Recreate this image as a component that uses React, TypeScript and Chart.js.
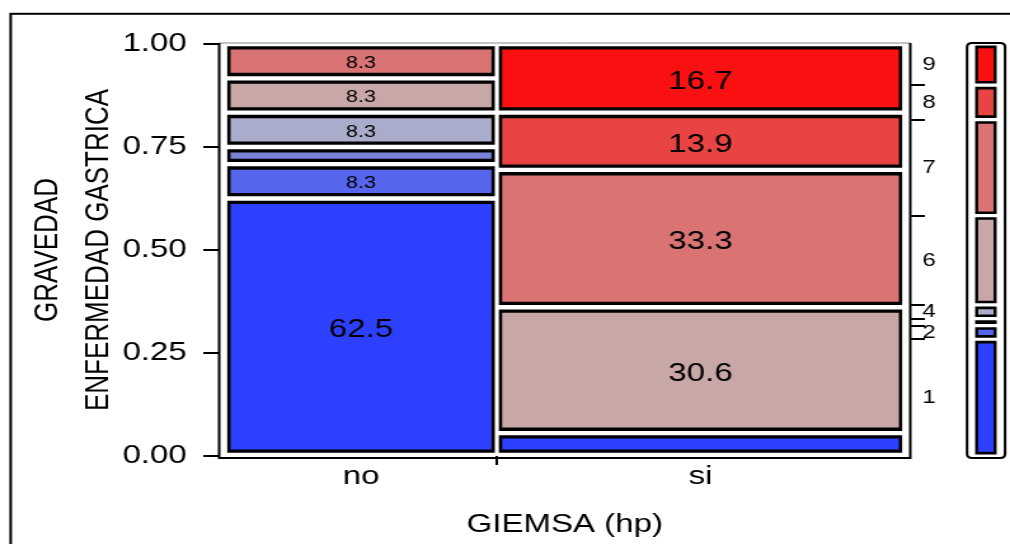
import React, { useEffect, useRef } from 'react';
import { Chart, registerables } from 'chart.js';

Chart.register(...registerables);

// ---------------- data ----------------
const columnLabels = ['no', 'si'];
const levelLabels = ['1', '2', '3', '4', '6', '7', '8', '9'];
const countsNo = [15, 2, 1, 2, 2, 2, 0, 0];
const countsSi = [2, 0, 0, 0, 11, 12, 5, 6];
const yTickValues = [0, 0.25, 0.5, 0.75, 1];
const xAxisTitle = 'GIEMSA (hp)';
const yAxisTitle = ['GRAVEDAD', 'ENFERMEDAD GASTRICA'];

// ---------------- style ----------------
const levelColors = ['#2D40FF', '#5565EC', '#7A83D6', '#A9ADCB', '#C8A7A7', '#DA7474', '#E84444', '#FA1010'];
const FONT = "'Liberation Sans', Arial, Helvetica, sans-serif";
const CANVAS_W = 795;
const CANVAS_H = 544;
const DISPLAY_W = 1010;
const PAD_LEFT = 10;
const PLOT_LEFT = 173;
const PLOT_RIGHT = 716;
const PLOT_TOP = 44;
const PLOT_BOTTOM = 456;
const MARG_LEFT = 762;
const MARG_RIGHT = 790;
const X_PAD = 0.008;
const MIN_LABEL_GAP = 0.045;
const GAP = { top: 2.2, bottom: 2.2, left: 1.6, right: 1.6 };
const GAP_BORDER = { top: 5.5, bottom: 5.5, left: 4.2, right: 4.2 };
const M_GAP = { top: 1.6, bottom: 1.6, left: 0, right: 0 };
const M_GAP_BORDER = { top: 4.2, bottom: 4.2, left: 2.6, right: 2.6 };
const TRANSPARENT = 'rgba(0,0,0,0)';

Chart.defaults.font.family = FONT;
Chart.defaults.color = '#000';

// ---------------- derived ----------------
const sum = (a: number[]) => a.reduce((s, v) => s + v, 0);
const columnCounts = [countsNo, countsSi];
const columnTotals = columnCounts.map(sum);
const grandTotal = sum(columnTotals);
const columnShares = columnTotals.map((t) => t / grandTotal);
const columnStarts = columnShares.map((_, i) => sum(columnShares.slice(0, i)));
const columnCenters = columnStarts.map((s, i) => s + columnShares[i] / 2);
const columnAxisIds = columnLabels.map((_, i) => `xCol${i}`);

const levelTotals = levelLabels.map((_, l) => sum(columnCounts.map((c) => c[l])));
const marginalEdges: number[] = [0];
levelTotals.forEach((n) => marginalEdges.push(marginalEdges[marginalEdges.length - 1] + n / grandTotal));
const presentLevels = levelTotals.map((n, i) => (n > 0 ? i : -1)).filter((i) => i >= 0);
const rightBoundaries = presentLevels.slice(0, -1).map((l) => marginalEdges[l + 1]);
const rightCenters = presentLevels.map((l) => (marginalEdges[l] + marginalEdges[l + 1]) / 2);
const rightLabelMap = new Map<number, string>();
{
  let last = -Infinity;
  presentLevels.forEach((l, k) => {
    const v = rightCenters[k];
    if (v - last >= MIN_LABEL_GAP) {
      rightLabelMap.set(v, levelLabels[l]);
      last = v;
    }
  });
}
const rightTicks = [...rightBoundaries, ...rightCenters].sort((a, b) => a - b);
const rightBoundarySet = new Set(rightBoundaries);

const xBoundaries = columnStarts.slice(1);
const xBoundarySet = new Set(xBoundaries);
const xLabelMap = new Map<number, string>();
columnCenters.forEach((c, i) => xLabelMap.set(c, columnLabels[i]));
const xTicks = [...columnCenters, ...xBoundaries].sort((a, b) => a - b);

function mosaicDatasets() {
  const out: any[] = [];
  columnCounts.forEach((counts, c) => {
    let cum = 0;
    counts.forEach((n, l) => {
      if (!n) return;
      const lo = cum / columnTotals[c];
      cum += n;
      const hi = cum / columnTotals[c];
      const common = {
        type: 'bar',
        xAxisID: columnAxisIds[c],
        yAxisID: 'y',
        data: [{ x: columnCenters[c], y: [lo, hi] }],
        grouped: false,
        barPercentage: 1,
        categoryPercentage: columnShares[c] / (1 + 2 * X_PAD),
        borderSkipped: false,
        inflateAmount: 0,
      };
      out.push({
        ...common,
        label: `${columnLabels[c]} ${levelLabels[l]} outline`,
        order: 2,
        backgroundColor: '#000',
        borderColor: '#fff',
        borderWidth: GAP,
      });
      out.push({
        ...common,
        label: `${columnLabels[c]} ${levelLabels[l]}`,
        order: 1,
        backgroundColor: levelColors[l],
        borderColor: TRANSPARENT,
        borderWidth: GAP_BORDER,
        cellLabel: ((n / columnTotals[c]) * 100).toFixed(1),
      });
    });
  });
  return out;
}

function marginalDatasets() {
  const out: any[] = [];
  levelTotals.forEach((n, l) => {
    if (!n) return;
    const common = {
      type: 'bar',
      data: [[marginalEdges[l], marginalEdges[l + 1]]],
      grouped: false,
      barPercentage: 0.62,
      categoryPercentage: 1,
      borderSkipped: false,
      inflateAmount: 0,
    };
    out.push({ ...common, label: `${levelLabels[l]} outline`, order: 2, backgroundColor: '#000', borderColor: '#fff', borderWidth: M_GAP });
    out.push({ ...common, label: levelLabels[l], order: 1, backgroundColor: levelColors[l], borderColor: TRANSPARENT, borderWidth: M_GAP_BORDER });
  });
  return out;
}

// ---------------- plugins ----------------
const mainFramePlugin = {
  id: 'mainFrame',
  beforeDraw(chart: any) {
    const { ctx } = chart;
    ctx.save();
    ctx.fillStyle = '#fff';
    ctx.fillRect(0, 0, chart.width, chart.height);
    ctx.strokeStyle = '#000';
    ctx.lineWidth = 2;
    ctx.strokeRect(8.4, 13.8, chart.width + 40, chart.height + 40);
    ctx.restore();
  },
  beforeDatasetsDraw(chart: any) {
    const { ctx, chartArea: a } = chart;
    ctx.save();
    ctx.strokeStyle = '#888';
    ctx.lineWidth = 1;
    ctx.beginPath();
    ctx.moveTo(a.left - 0.5, a.top - 1);
    ctx.lineTo(a.right + 0.5, a.top - 1);
    ctx.stroke();
    ctx.strokeStyle = '#000';
    ctx.lineWidth = 2;
    ctx.beginPath();
    ctx.moveTo(a.left - 0.5, a.top - 1);
    ctx.lineTo(a.left - 0.5, a.bottom + 2);
    ctx.lineTo(a.right + 0.5, a.bottom + 2);
    ctx.lineTo(a.right + 0.5, a.top - 1);
    ctx.stroke();
    ctx.restore();
  },
};

const cellLabelPlugin = {
  id: 'cellLabels',
  afterDatasetsDraw(chart: any) {
    const { ctx } = chart;
    ctx.save();
    ctx.textAlign = 'center';
    ctx.textBaseline = 'alphabetic';
    ctx.fillStyle = '#000';
    chart.data.datasets.forEach((ds: any, i: number) => {
      if (!ds.cellLabel) return;
      const el = chart.getDatasetMeta(i).data[0];
      if (!el) return;
      const { x, y, base } = el.getProps(['x', 'y', 'base'], true);
      const h = Math.abs(base - y);
      if (h < 30) return;
      const size = h > 50 ? 26 : 17;
      ctx.font = `${size}px ${FONT}`;
      ctx.fillText(ds.cellLabel, x, (y + base) / 2 + size * 0.41);
    });
    ctx.restore();
  },
};

const marginalFramePlugin = {
  id: 'marginalFrame',
  beforeDatasetsDraw(chart: any) {
    const { ctx, chartArea: a } = chart;
    const x0 = a.left - 0.8;
    const x1 = a.right + 1.1;
    const y0 = a.top - 1;
    const y1 = a.bottom + 2;
    const r = 4;
    ctx.save();
    ctx.strokeStyle = '#000';
    ctx.lineWidth = 2;
    ctx.beginPath();
    ctx.moveTo(x0 + r, y0);
    ctx.lineTo(x1 - r, y0);
    ctx.quadraticCurveTo(x1, y0, x1, y0 + r);
    ctx.lineTo(x1, y1 - r);
    ctx.quadraticCurveTo(x1, y1, x1 - r, y1);
    ctx.lineTo(x0 + r, y1);
    ctx.quadraticCurveTo(x0, y1, x0, y1 - r);
    ctx.lineTo(x0, y0 + r);
    ctx.quadraticCurveTo(x0, y0, x0 + r, y0);
    ctx.closePath();
    ctx.stroke();
    ctx.restore();
  },
};

// ---------------- configs ----------------
const hiddenColumnAxis = () => ({
  type: 'linear',
  axis: 'x',
  position: 'bottom',
  display: false,
  min: -X_PAD,
  max: 1 + X_PAD,
  offset: false,
  grid: { offset: false },
  afterBuildTicks: (s: any) => {
    s.ticks = [{ value: s.min }, { value: s.max }];
  },
});

function mainConfig(): any {
  const scales: any = {
    x: {
      type: 'linear',
      position: 'bottom',
      min: -X_PAD,
      max: 1 + X_PAD,
      offset: false,
      afterBuildTicks: (s: any) => {
        s.ticks = xTicks.map((v) => ({ value: v }));
      },
      afterFit: (s: any) => {
        s.height = CANVAS_H - PLOT_BOTTOM;
      },
      ticks: {
        callback: (v: number) => xLabelMap.get(v) ?? '',
        font: { size: 26 },
        padding: -3.4,
        autoSkip: false,
        maxRotation: 0,
        minRotation: 0,
        color: '#000',
      },
      grid: {
        offset: false,
        drawOnChartArea: false,
        drawTicks: true,
        tickLength: 9,
        lineWidth: 2,
        color: (c: any) => (c.tick && xBoundarySet.has(c.tick.value) ? '#000' : TRANSPARENT),
        tickColor: (c: any) => (c.tick && xBoundarySet.has(c.tick.value) ? '#000' : TRANSPARENT),
      },
      border: { display: false },
      title: {
        display: true,
        text: xAxisTitle,
        font: { size: 26 },
        color: '#000',
        padding: { top: 0, bottom: 3.4 },
      },
    },
    y: {
      type: 'linear',
      position: 'left',
      min: 0,
      max: 1,
      afterBuildTicks: (s: any) => {
        s.ticks = yTickValues.map((v) => ({ value: v }));
      },
      afterFit: (s: any) => {
        s.width = PLOT_LEFT - PAD_LEFT;
      },
      ticks: {
        callback: (v: number) => Number(v).toFixed(2),
        font: { size: 26 },
        padding: 13,
        autoSkip: false,
        color: '#000',
      },
      grid: {
        drawOnChartArea: false,
        drawTicks: true,
        tickLength: 13,
        lineWidth: 2,
        color: '#000',
      },
      border: { display: false },
      title: {
        display: true,
        text: yAxisTitle,
        font: { size: 26, lineHeight: 1.515 },
        color: '#000',
        padding: { top: 8.4, bottom: 0 },
      },
    },
    y2: {
      type: 'linear',
      position: 'right',
      min: 0,
      max: 1,
      afterBuildTicks: (s: any) => {
        s.ticks = rightTicks.map((v) => ({ value: v }));
      },
      afterFit: (s: any) => {
        s.width = CANVAS_W - PLOT_RIGHT;
      },
      ticks: {
        callback: (v: number) => rightLabelMap.get(v) ?? '',
        font: { size: 19 },
        padding: -2,
        autoSkip: false,
        color: '#000',
      },
      grid: {
        drawOnChartArea: false,
        drawTicks: true,
        tickLength: 12,
        lineWidth: 2,
        color: (c: any) => (c.tick && rightBoundarySet.has(c.tick.value) ? '#000' : TRANSPARENT),
        tickColor: (c: any) => (c.tick && rightBoundarySet.has(c.tick.value) ? '#000' : TRANSPARENT),
      },
      border: { display: false },
    },
  };
  columnAxisIds.forEach((id) => {
    scales[id] = hiddenColumnAxis();
  });
  return {
    type: 'bar',
    data: { datasets: mosaicDatasets() },
    options: {
      responsive: false,
      devicePixelRatio: 1,
      animation: false,
      events: [],
      layout: { padding: { left: PAD_LEFT, right: 0, top: PLOT_TOP, bottom: 0 } },
      plugins: {
        legend: { display: false },
        tooltip: { enabled: false },
        title: { display: false },
      },
      scales,
    },
    plugins: [mainFramePlugin, cellLabelPlugin],
  };
}

function marginalConfig(): any {
  return {
    type: 'bar',
    data: { labels: ['total'], datasets: marginalDatasets() },
    options: {
      responsive: false,
      devicePixelRatio: 1,
      animation: false,
      events: [],
      layout: {
        padding: { left: MARG_LEFT, right: CANVAS_W - MARG_RIGHT, top: PLOT_TOP, bottom: CANVAS_H - PLOT_BOTTOM },
      },
      plugins: { legend: { display: false }, tooltip: { enabled: false } },
      scales: {
        x: { type: 'category', display: false },
        y: { type: 'linear', display: false, min: 0, max: 1 },
      },
    },
    plugins: [marginalFramePlugin],
  };
}

// ---------------- component ----------------
export default function App() {
  const mainRef = useRef<HTMLCanvasElement>(null);
  const margRef = useRef<HTMLCanvasElement>(null);

  useEffect(() => {
    const main = new Chart(mainRef.current as HTMLCanvasElement, mainConfig());
    const marg = new Chart(margRef.current as HTMLCanvasElement, marginalConfig());
    return () => {
      main.destroy();
      marg.destroy();
    };
  }, []);

  const canvasStyle: React.CSSProperties = {
    position: 'absolute',
    left: 0,
    top: 0,
    width: `${DISPLAY_W}px`,
    height: `${CANVAS_H}px`,
  };

  return (
    <div
      style={{
        position: 'fixed',
        left: 0,
        top: 0,
        width: DISPLAY_W,
        height: CANVAS_H,
        overflow: 'hidden',
        background: '#fff',
      }}
    >
      <canvas ref={mainRef} width={CANVAS_W} height={CANVAS_H} style={canvasStyle} />
      <canvas ref={margRef} width={CANVAS_W} height={CANVAS_H} style={canvasStyle} />
    </div>
  );
}
